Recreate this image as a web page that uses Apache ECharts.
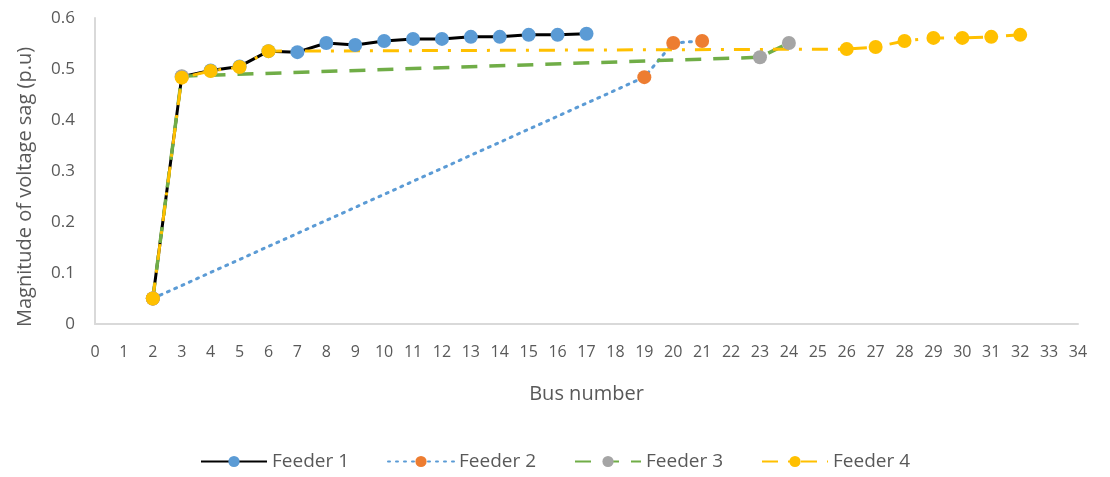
<!DOCTYPE html>
<html>
<head>
<meta charset="utf-8">
<script src="https://cdn.jsdelivr.net/npm/echarts@6/dist/echarts.min.js"></script>
<style>
  html, body { margin: 0; padding: 0; background: #fff; }
  #chart { width: 1110px; height: 477px; }
</style>
</head>
<body>
<div id="chart"></div>
<script>
// bus numbers and sag magnitudes per feeder
var feeder1Bus = [2, 3, 4, 5, 6, 7, 8, 9, 10, 11, 12, 13, 14, 15, 16, 17];
var feeder1Sag = [0.05, 0.485, 0.497, 0.505, 0.535, 0.533, 0.551, 0.547, 0.555, 0.559, 0.559, 0.563, 0.563, 0.567, 0.567, 0.569];

var feeder2Bus = [2, 19, 20, 21];
var feeder2Sag = [0.05, 0.484, 0.551, 0.555];

var feeder3Bus = [2, 3, 23, 24];
var feeder3Sag = [0.05, 0.486, 0.523, 0.551];

var feeder4Bus = [2, 3, 4, 5, 6, 26, 27, 28, 29, 30, 31, 32];
var feeder4Sag = [0.05, 0.483, 0.496, 0.504, 0.535, 0.539, 0.543, 0.555, 0.561, 0.561, 0.563, 0.567];

var seriesNames = ['Feeder 1', 'Feeder 2', 'Feeder 3', 'Feeder 4'];

function pairs(xs, ys) {
  return xs.map(function (x, i) { return [x, ys[i]]; });
}

var chart = echarts.init(document.getElementById('chart'));

var fontFamily = '"Open Sans", Lato, sans-serif';
var axisLine = {
  show: true,
  lineStyle: { color: '#D9D9D9', width: 2 }
};

var option = {
  animation: false,
  backgroundColor: '#fff',
  grid: {
    left: 95,
    right: 32,
    top: 18,
    bottom: 153
  },
  legend: {
    bottom: 1,
    left: 'center',
    itemWidth: 66,
    itemHeight: 14,
    itemGap: 38,
    textStyle: { color: '#595959', fontSize: 19, fontFamily: fontFamily },
    data: seriesNames
  },
  xAxis: {
    type: 'value',
    min: 0,
    max: 34,
    interval: 1,
    name: 'Bus number',
    nameLocation: 'middle',
    nameGap: 60,
    nameTextStyle: { color: '#595959', fontSize: 20, fontFamily: fontFamily },
    axisLine: axisLine,
    axisTick: { show: false },
    splitLine: { show: false },
    axisLabel: {
      color: '#595959',
      fontSize: 16,
      fontFamily: fontFamily,
      margin: 20
    }
  },
  yAxis: {
    type: 'value',
    min: 0,
    max: 0.6,
    interval: 0.1,
    name: 'Magnitude of voltage sag (p.u)',
    nameLocation: 'middle',
    nameGap: 60,
    nameTextStyle: {
      color: '#595959',
      fontSize: 20,
      fontFamily: fontFamily,
      padding: [0, 32, 0, 0]
    },
    axisLine: axisLine,
    axisTick: { show: false },
    splitLine: { show: false },
    axisLabel: {
      color: '#595959',
      fontSize: 17,
      fontFamily: fontFamily,
      margin: 20
    }
  },
  series: [
    {
      name: 'Feeder 1',
      type: 'line',
      data: pairs(feeder1Bus, feeder1Sag),
      symbol: 'circle',
      symbolSize: 14,
      lineStyle: { color: '#000000', width: 3 },
      itemStyle: { color: '#5B9BD5' }
    },
    {
      name: 'Feeder 2',
      type: 'line',
      data: pairs(feeder2Bus, feeder2Sag),
      symbol: 'circle',
      symbolSize: 14,
      lineStyle: { color: '#5B9BD5', width: 3, type: [2, 6], cap: 'round' },
      itemStyle: { color: '#ED7D31' }
    },
    {
      name: 'Feeder 3',
      type: 'line',
      data: pairs(feeder3Bus, feeder3Sag),
      symbol: 'circle',
      symbolSize: 14,
      lineStyle: { color: '#70AD47', width: 3.5, type: [16, 12] },
      itemStyle: { color: '#A5A5A5' }
    },
    {
      name: 'Feeder 4',
      type: 'line',
      data: pairs(feeder4Bus, feeder4Sag),
      symbol: 'circle',
      symbolSize: 14,
      lineStyle: { color: '#FFC000', width: 3, type: [16, 10, 3, 10] },
      itemStyle: { color: '#FFC000' }
    }
  ]
};

chart.setOption(option);
</script>
</body>
</html>
